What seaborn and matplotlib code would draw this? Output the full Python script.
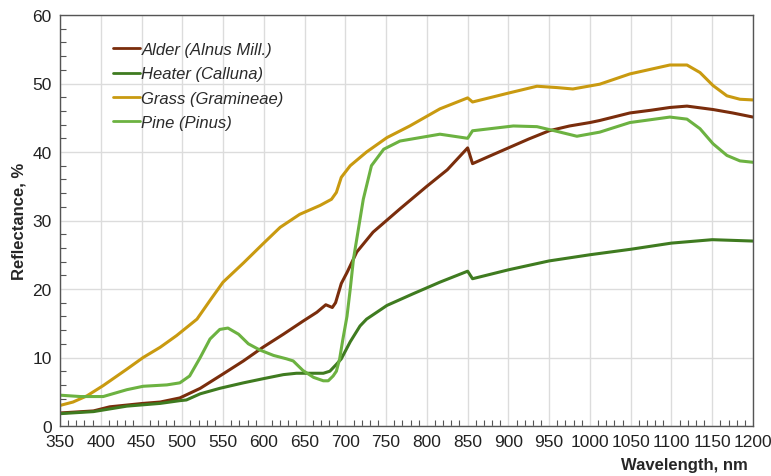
import matplotlib
matplotlib.use("Agg")
import matplotlib.pyplot as plt
import seaborn as sns
import pandas as pd
from matplotlib.ticker import MultipleLocator

series_names = ["Alder (Alnus Mill.)", "Heater (Calluna)", "Grass (Gramineae)", "Pine (Pinus)"]
colors = ["#7a2d0c", "#3f7b20", "#c99a10", "#6cb241"]

alder_wl = [350, 391, 411, 452, 473, 497, 522, 550, 575, 599, 624, 648, 665, 676, 684, 688, 695, 702, 714, 734, 767, 800, 825, 850, 856, 875, 900, 925, 950, 975, 1000, 1012, 1049, 1075, 1098, 1119, 1151, 1175, 1200]
alder_r  = [1.9, 2.2, 2.8, 3.3, 3.5, 4.1, 5.5, 7.6, 9.5, 11.5, 13.4, 15.3, 16.6, 17.7, 17.3, 18.0, 20.8, 22.4, 25.4, 28.3, 31.7, 35.0, 37.4, 40.6, 38.3, 39.3, 40.6, 41.9, 43.1, 43.8, 44.3, 44.6, 45.7, 46.1, 46.5, 46.7, 46.2, 45.7, 45.1]

heater_wl = [350, 391, 432, 473, 497, 505, 522, 546, 575, 599, 624, 640, 673, 681, 689, 695, 706, 718, 726, 751, 783, 816, 850, 856, 900, 950, 1000, 1050, 1100, 1150, 1200]
heater_r  = [1.8, 2.1, 2.9, 3.3, 3.7, 3.8, 4.7, 5.5, 6.3, 6.9, 7.5, 7.7, 7.7, 8.0, 9.0, 9.8, 12.3, 14.6, 15.6, 17.6, 19.3, 21.0, 22.6, 21.5, 22.8, 24.1, 25.0, 25.8, 26.7, 27.2, 27.0]

grass_wl = [350, 366, 383, 403, 432, 452, 473, 493, 518, 535, 550, 575, 599, 620, 644, 669, 683, 689, 695, 706, 726, 751, 779, 816, 850, 856, 900, 935, 960, 979, 1012, 1049, 1098, 1119, 1135, 1151, 1168, 1184, 1200]
grass_r  = [3.0, 3.5, 4.4, 5.9, 8.3, 10.0, 11.5, 13.2, 15.6, 18.5, 21.0, 23.8, 26.6, 29.0, 30.9, 32.2, 33.1, 34.1, 36.3, 38.0, 40.0, 42.1, 43.8, 46.3, 47.9, 47.3, 48.6, 49.6, 49.4, 49.2, 49.9, 51.4, 52.7, 52.7, 51.6, 49.7, 48.2, 47.7, 47.6]

pine_wl = [350, 375, 403, 432, 452, 481, 497, 509, 522, 534, 546, 556, 569, 581, 595, 612, 628, 636, 648, 661, 673, 679, 685, 689, 693, 697, 702, 706, 710, 714, 722, 732, 747, 767, 816, 850, 856, 906, 935, 960, 984, 1012, 1049, 1098, 1119, 1135, 1151, 1168, 1184, 1200]
pine_r  = [4.5, 4.3, 4.3, 5.3, 5.8, 6.0, 6.3, 7.3, 10.0, 12.7, 14.1, 14.3, 13.4, 12.0, 11.1, 10.3, 9.8, 9.5, 8.1, 7.1, 6.6, 6.6, 7.3, 8.0, 9.8, 12.7, 16.0, 20.0, 24.4, 27.3, 33.1, 38.0, 40.4, 41.6, 42.6, 42.0, 43.1, 43.8, 43.7, 43.0, 42.3, 42.9, 44.3, 45.1, 44.8, 43.4, 41.2, 39.5, 38.7, 38.5]

frames = []
for name, wl, r in zip(series_names, [alder_wl, heater_wl, grass_wl, pine_wl], [alder_r, heater_r, grass_r, pine_r]):
    frames.append(pd.DataFrame({"wl": wl, "r": r, "series": name}))
df = pd.concat(frames, ignore_index=True)

sns.set_style("white")
plt.rcParams["font.family"] = ["Liberation Sans", "DejaVu Sans"]

fig = plt.figure(figsize=(7.71, 4.77), dpi=100)
ax = fig.add_axes([60/771, 50/477, 693/771, 411/477])

sns.lineplot(data=df, x="wl", y="r", hue="series", hue_order=series_names,
             palette=dict(zip(series_names, colors)), estimator=None, sort=True,
             linewidth=2.2, ax=ax)
for ln in ax.get_lines():
    ln.set_solid_joinstyle("round")
    ln.set_solid_capstyle("round")

ax.set_xlim(350, 1200)
ax.set_ylim(0, 60)
ax.xaxis.set_major_locator(MultipleLocator(50))
ax.xaxis.set_minor_locator(MultipleLocator(10))
ax.yaxis.set_major_locator(MultipleLocator(10))
ax.yaxis.set_minor_locator(MultipleLocator(2))
ax.grid(True, which="major", color="#dcdcdc", linewidth=1.0)
ax.set_axisbelow(True)
for s in ax.spines.values():
    s.set_color("#555555")
    s.set_linewidth(1.0)
ax.tick_params(axis="both", which="major", direction="in", length=0, labelsize=12.5, colors="#222222", pad=6)
ax.tick_params(axis="both", which="minor", direction="in", length=4, color="#555555", width=0.8)
ax.tick_params(axis="x", which="minor", bottom=True, top=False)
ax.tick_params(axis="y", which="minor", left=True, right=False)

ax.set_xlabel("")
ax.set_ylabel("Reflectance, %", fontsize=12, fontweight="bold", labelpad=4)
fig.text(748/771, 1 - 466/477, "Wavelength, nm", ha="right", va="center", fontsize=12, fontweight="bold")

leg = ax.legend(loc="upper left", bbox_to_anchor=(0.055, 0.97), frameon=False,
                handlelength=1.6, handletextpad=0.1, labelspacing=0.55,
                prop={"style": "italic", "size": 12})
for line in leg.get_lines():
    line.set_linewidth(2.0)
for t in leg.get_texts():
    t.set_color("#2a2a2a")

fig.savefig("out.png", dpi=100)
